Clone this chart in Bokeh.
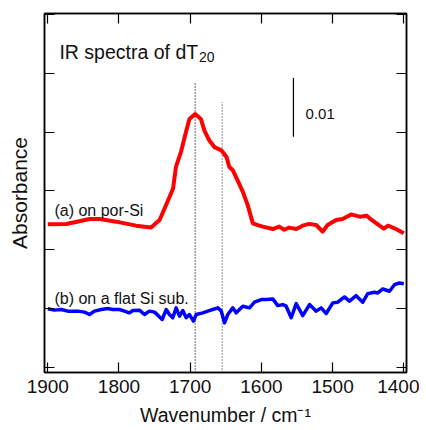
from bokeh.plotting import figure
from bokeh.models import Range1d, LinearAxis, FixedTicker, CustomJSTickFormatter, Label
from bokeh.embed import file_html
from bokeh.resources import INLINE

# ---- data ----
por_si_wn = [1900, 1874, 1841, 1827, 1804, 1776, 1755, 1743, 1734, 1724, 1720, 1713, 1706, 1701,
             1693, 1685, 1680, 1673, 1666, 1656, 1649, 1645, 1640, 1630, 1626, 1619, 1612, 1605,
             1598, 1584, 1575, 1568, 1561, 1551, 1542, 1533, 1523, 1514, 1507, 1495, 1486, 1474,
             1462, 1452, 1448, 1434, 1428, 1422, 1411, 1400]
por_si_abs = [0.02432, 0.02437, 0.02522, 0.02522, 0.02478, 0.02410, 0.02377, 0.02505, 0.02758,
              0.03041, 0.03407, 0.03660, 0.03998, 0.04223, 0.04307, 0.04223, 0.04025, 0.03856,
              0.03745, 0.03688, 0.03576, 0.03407, 0.03350, 0.03090, 0.02985, 0.02750, 0.02449,
              0.02420, 0.02394, 0.02353, 0.02394, 0.02340, 0.02377, 0.02353, 0.02410, 0.02440,
              0.02421, 0.02309, 0.02421, 0.02505, 0.02522, 0.02601, 0.02563, 0.02580, 0.02534,
              0.02410, 0.02360, 0.02410, 0.02353, 0.02280]

flat_si_wn = [1900, 1890.6, 1881.2, 1871.9, 1857.9, 1848.5, 1841.4, 1834.4, 1825, 1815.7, 1808.7,
              1799.3, 1792.3, 1785.3, 1780.6, 1771.2, 1764.2, 1757.2, 1750.1, 1745.5, 1739.3,
              1733.7, 1729.1, 1724.4, 1719.7, 1715, 1710.4, 1705.6, 1701, 1695.4, 1691.6, 1682.3,
              1675.3, 1668.3, 1661.2, 1656.5, 1651.8, 1647.2, 1640.2, 1635.4, 1626.1, 1616.7,
              1609.7, 1600.3, 1593.3, 1584, 1577, 1570, 1565.2, 1558.1, 1551.1, 1541.9, 1532.4,
              1523, 1516, 1509, 1499.7, 1492.7, 1483.3, 1476.3, 1466.9, 1457.6, 1450.6, 1441.2,
              1436.5, 1429.5, 1420.1, 1413.1, 1406.1, 1400]
flat_si_abs = [0.00997, 0.00975, 0.00985, 0.00958, 0.00958, 0.00941, 0.00900, 0.00958, 0.00985,
               0.01002, 0.00985, 0.00985, 0.00958, 0.00929, 0.00968, 0.00975, 0.00900, 0.00958,
               0.00941, 0.00890, 0.00816, 0.00985, 0.00900, 0.00845, 0.01014, 0.00873, 0.00968,
               0.00845, 0.00900, 0.00789, 0.00900, 0.00929, 0.00958, 0.00985, 0.01014, 0.00963,
               0.00760, 0.00900, 0.01014, 0.00929, 0.01042, 0.01014, 0.01110, 0.01154, 0.01154,
               0.01166, 0.01052, 0.01069, 0.01042, 0.00845, 0.01086, 0.00883, 0.01069, 0.00958,
               0.01014, 0.00917, 0.01098, 0.01110, 0.01199, 0.01127, 0.01221, 0.01110, 0.01255,
               0.01279, 0.01267, 0.01334, 0.01296, 0.01407, 0.01436, 0.01424]

x_ticks = [1900, 1800, 1700, 1600, 1500, 1400]
y_ticks = [0.0, 0.01, 0.02, 0.03, 0.04, 0.05, 0.06]
marker_lines_wn = [1693, 1655]
marker_lines_top = [0.0485, 0.0451]
scale_bar_wn = 1555
scale_bar_y = [0.0392, 0.0492]

FONT = "Liberation Sans"
Y0, Y1 = -0.000845, 0.06014

p = figure(width=419, height=428, x_range=Range1d(1904.6, 1396.2), y_range=Range1d(Y0, Y1),
           output_backend="svg", toolbar_location=None,
           min_border_left=44, min_border_right=13, min_border_top=13, min_border_bottom=54)
p.xgrid.visible = False
p.ygrid.visible = False
p.outline_line_color = "black"
p.outline_line_width = 1.5
p.background_fill_color = "white"
p.border_fill_color = "white"

blank = CustomJSTickFormatter(code="return ''")

# bottom axis
xa = p.xaxis[0]
xa.ticker = FixedTicker(ticks=x_ticks)
xa.minor_tick_line_color = None
xa.major_tick_in = 10
xa.major_tick_out = 0
xa.major_tick_line_width = 1.2
xa.axis_line_width = 1.5
xa.major_label_text_font = FONT
xa.major_label_text_font_size = "19px"
xa.major_label_text_color = "#111111"
xa.major_label_standoff = 7
xa.axis_label = "Wavenumber / cm\u207b\u00b9"
xa.axis_label_text_font = FONT
xa.axis_label_text_font_style = "normal"
xa.axis_label_text_font_size = "19.5px"
xa.axis_label_text_color = "#111111"
xa.axis_label_standoff = 8

# left axis
ya = p.yaxis[0]
ya.ticker = FixedTicker(ticks=y_ticks)
ya.formatter = blank
ya.minor_tick_line_color = None
ya.major_tick_in = 10
ya.major_tick_out = 0
ya.major_tick_line_width = 1.2
ya.axis_line_width = 1.5
ya.major_label_text_font_size = "0px"
ya.major_label_standoff = 0
ya.axis_label = "Absorbance"
ya.axis_label_text_font = FONT
ya.axis_label_text_font_style = "normal"
ya.axis_label_text_font_size = "21px"
ya.axis_label_text_color = "#111111"
ya.axis_label_standoff = 14

# top and right axes (ticks only)
top = LinearAxis(ticker=FixedTicker(ticks=x_ticks), formatter=blank, major_tick_in=10, major_tick_out=0,
                 minor_tick_line_color=None, major_label_text_font_size="0px", major_label_standoff=0,
                 axis_line_width=1.5, major_tick_line_width=1.2)
right = LinearAxis(ticker=FixedTicker(ticks=y_ticks), formatter=blank, major_tick_in=10, major_tick_out=0,
                   minor_tick_line_color=None, major_label_text_font_size="0px", major_label_standoff=0,
                   axis_line_width=1.5, major_tick_line_width=1.2)
p.add_layout(top, "above")
p.add_layout(right, "right")

# marker lines
p.segment(x0=[marker_lines_wn[0]], y0=[Y0], x1=[marker_lines_wn[0]], y1=[marker_lines_top[0]],
          line_color="black", line_width=1.2, line_dash="1 2")
p.segment(x0=[marker_lines_wn[1]], y0=[Y0], x1=[marker_lines_wn[1]], y1=[marker_lines_top[1]],
          line_color="#444444", line_width=1.2, line_dash="1 2")

# spectra
p.line(por_si_wn, por_si_abs, line_color="#ff0000", line_width=4, line_join="round")
p.line(flat_si_wn, flat_si_abs, line_color="#0000ff", line_width=3.5, line_join="round")

# scale bar
p.segment(x0=[scale_bar_wn], y0=[scale_bar_y[0]], x1=[scale_bar_wn], y1=[scale_bar_y[1]],
          line_color="black", line_width=1.2)

def lab(x, y, t, size):
    p.add_layout(Label(x=x, y=y, text=t, text_font=FONT, text_font_size=size, text_color="#111111",
                       text_baseline="alphabetic"))

lab(1538, 0.0431, "0.01", "15px")
lab(1883.6, 0.05367, "IR spectra of dT", "19.5px")
lab(1687.5, 0.05280, "20", "14px")
lab(1890.6, 0.02674, "(a) on por-Si", "16px")
lab(1890.6, 0.01171, "(b) on a flat Si sub.", "16px")

open("out.html", "w").write(file_html(p, INLINE))
